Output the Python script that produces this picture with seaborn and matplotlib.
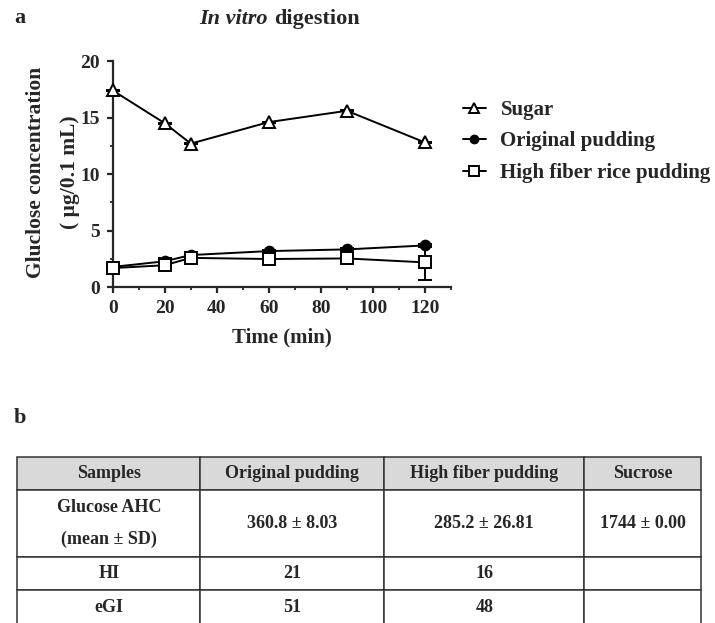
import numpy as np
import pandas as pd
import seaborn as sns
import matplotlib.pyplot as plt
from matplotlib.ticker import MultipleLocator

# ---- data ----
time_min = [0, 20, 30, 60, 90, 120]
sugar = [17.4, 14.5, 12.7, 14.6, 15.6, 12.8]
sugar_sd = [0.05, 0.05, 0.05, 0.05, 0.05, 0.05]
original = [1.8, 2.3, 2.85, 3.2, 3.35, 3.7]
original_sd = [0.1, 0.3, 0.1, 0.1, 0.1, 0.1]
high_fiber = [1.7, 1.95, 2.6, 2.5, 2.55, 2.2]
high_fiber_sd = [0.1, 0.2, 0.1, 0.1, 0.1, 1.55]
series_names = ["Sugar", "Original pudding", "High fiber rice pudding"]

table_columns = ["Samples", "Original pudding", "High fiber pudding", "Sucrose"]
table_rows = [
    ["Glucose AHC\n(mean ± SD)", "360.8 ± 8.03", "285.2 ± 26.81", "1744 ± 0.00"],
    ["HI", "21", "16", ""],
    ["eGI", "51", "48", ""],
]

sns.set_style("ticks")
plt.rcParams['font.family'] = ['Liberation Serif', 'DejaVu Serif']
plt.rcParams['font.weight'] = 'bold'

W, H = 715, 623
fig = plt.figure(figsize=(W / 100, H / 100), dpi=100)

def fx(px):
    return px / W

def fy(py):
    return 1 - py / H

ax = fig.add_axes([fx(112.7), fy(287.3), fx(451) - fx(112.7), fy(61) - fy(287.3)])

styles = [
    dict(marker='^', markerfacecolor='white', markersize=8.5),
    dict(marker='o', markerfacecolor='black', markersize=7),
    dict(marker='s', markerfacecolor='white', markersize=8.5),
]
values = [sugar, original, high_fiber]
sds = [sugar_sd, original_sd, high_fiber_sd]

for name, vals, err, st in zip(series_names, values, sds, styles):
    ax.errorbar(time_min, vals, yerr=err, fmt='none', ecolor='black',
                elinewidth=1.4, capsize=5, capthick=1.4, clip_on=False, zorder=2)
    sns.lineplot(x=time_min, y=vals, ax=ax, color='black', linewidth=1.4,
                 markeredgecolor='black', markeredgewidth=1.4, label=name,
                 clip_on=False, zorder=3, **st)

ax.set_xlim(0, 130)
ax.set_ylim(0, 20)
ax.xaxis.set_major_locator(MultipleLocator(20))
ax.xaxis.set_minor_locator(MultipleLocator(10))
ax.yaxis.set_major_locator(MultipleLocator(5))
ax.yaxis.set_minor_locator(MultipleLocator(2.5))
ax.set_xticks([0, 20, 40, 60, 80, 100, 120])
for s in ['top', 'right']:
    ax.spines[s].set_visible(False)
for s in ['left', 'bottom']:
    ax.spines[s].set_linewidth(1.6)
ax.tick_params(which='major', length=4, width=1.6, pad=5, labelsize=14, direction='out')
ax.tick_params(which='minor', length=2.5, width=1.3, direction='out')
for lab in ax.get_xticklabels() + ax.get_yticklabels():
    lab.set_fontweight('bold')
ax.set_xlabel("Time (min)", fontsize=15, fontweight='bold', labelpad=8)
ax.legend_.remove()

handles, labels = ax.get_legend_handles_labels()
fig.legend(handles, labels, loc='upper left', bbox_to_anchor=(fx(463), fy(100)),
           frameon=False, borderpad=0, borderaxespad=0,
           handlelength=1.1, handletextpad=0.7, labelspacing=0.55,
           markerscale=0.8, prop={'weight': 'bold', 'size': 15})

# y label in two lines
fig.text(fx(36), fy(172), "Gluclose concentration", rotation=90, ha='center',
         va='center', fontsize=15.5, fontweight='bold')
fig.text(fx(70), fy(172), "( μg/0.1 mL)", rotation=90, ha='center',
         va='center', fontsize=15.5, fontweight='bold')

# title with italic part
fig.text(fx(268), fy(19), "In vitro", ha='right', va='center', fontsize=16,
         fontweight='bold', fontstyle='italic')
fig.text(fx(274), fy(19), "digestion", ha='left', va='center', fontsize=16,
         fontweight='bold')

fig.text(fx(14), fy(18), "a", ha='left', va='center', fontsize=16, fontweight='bold')
fig.text(fx(14), fy(418), "b", ha='left', va='center', fontsize=16, fontweight='bold')

# ---- table ----
tax = fig.add_axes([0, 0, 1, 1])
tax.axis('off')
col_px = [183, 184, 200, 116.7]
row_px = [33.3, 67, 33, 35]
tbl = tax.table(cellText=table_rows, colLabels=table_columns, cellLoc='center',
                colWidths=[c / sum(col_px) for c in col_px],
                bbox=[fx(17.3), fy(625), fx(701) - fx(17.3), fy(456.7) - fy(625)])
tbl.auto_set_font_size(False)
tbl.set_fontsize(13)
for (r, c), cell in tbl.get_celld().items():
    cell.set_height(row_px[r] / sum(row_px))
    cell.set_edgecolor('#333333')
    cell.set_linewidth(1.1)
    cell.get_text().set_fontweight('bold')
    cell.get_text().set_linespacing(2.1)
    if r == 0:
        cell.set_facecolor('#d9d9d9')

fig.savefig("out.png", dpi=100)
